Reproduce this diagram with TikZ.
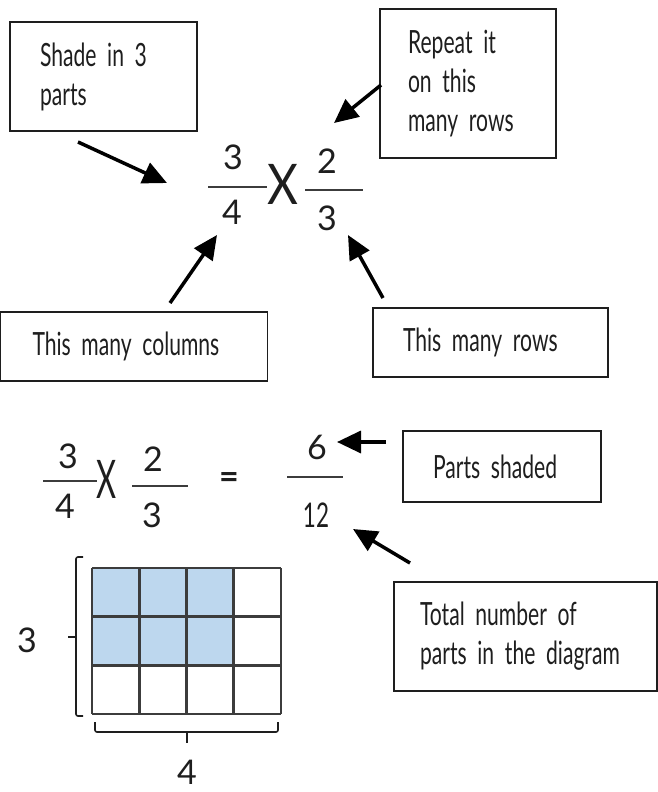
\documentclass[tikz,border=0pt]{standalone}
\usepackage{fontspec}
\setmainfont{Lato}[FakeStretch=0.66, WordSpace=0.4]
\newfontfamily\digitfont{Lato}
\newfontfamily\timesfont{Lato}[FakeStretch=0.85]
\usetikzlibrary{arrows.meta}
\definecolor{Ink}{HTML}{1E1E1E}
\definecolor{GridInk}{HTML}{3C3C3C}
\definecolor{ShadeBlue}{HTML}{BDD7EE}
\hyphenpenalty=10000

\begin{document}
\begin{tikzpicture}[x=1pt, y=-1pt,
    note/.style={draw=Ink, line width=1.8pt, text=Ink, align=left,
                 font=\fontsize{32}{39}\selectfont, inner ysep=0pt},
    num/.style={text=Ink, font=\digitfont\fontsize{34}{34}\selectfont, inner sep=0pt},
    times/.style={text=Ink, font=\timesfont\fontsize{56}{56}\selectfont, inner sep=0pt},
    pointer/.style={draw=black, line width=3.5pt, -{Triangle[length=24pt,width=22pt]}},
    bar/.style={draw=GridInk, line width=2.4pt},
    gridline/.style={draw=GridInk, line width=2.8pt},
    bracket/.style={draw=Ink, line width=1.6pt, rounded corners=2pt}
  ]
  \useasboundingbox (0,0) rectangle (658,792);

  % the labelled multiplication
  \node[num] (topA) at (233,157) {3};
  \node[num] (botA) at (232,212) {4};
  \draw[bar] (208,187) -- (267,187);
  \node[times] (timesTop) at (283,184) {X};
  \node[num] (topB) at (327,161) {2};
  \node[num] (botB) at (327,218) {3};
  \draw[bar] (305,190) -- (363,190);

  \node[note, text width=127pt, inner xsep=30pt, minimum height=109pt] (shade) at (103.5,76.5) {Shade in 3\\parts};
  \node[note, text width=120pt, inner xsep=28pt, minimum height=149pt] (repeat) at (468,83.5) {Repeat it\\on this\\many rows};
  \node[note, text width=203pt, inner xsep=32pt, minimum height=69pt] (cols) at (134,346.5) {This many columns};
  \node[note, text width=175pt, inner xsep=30pt, minimum height=69pt] (rows) at (490.5,342.5) {This many rows};

  \coordinate (shadeTail) at (78,142);   \coordinate (shadeTip) at (167,183);
  \coordinate (repeatTail) at (381,85);  \coordinate (repeatTip) at (334,123);
  \coordinate (colsTail) at (170,303);   \coordinate (colsTip) at (217,235);
  \coordinate (rowsTail) at (383,298);   \coordinate (rowsTip) at (348,235);
  \draw[pointer] (shadeTail) -- (shadeTip);
  \draw[pointer] (repeatTail) -- (repeatTip);
  \draw[pointer] (colsTail) -- (colsTip);
  \draw[pointer] (rowsTail) -- (rowsTip);

  % the worked answer
  \node[num] (ansTopA) at (68,456) {3};
  \node[num] (ansBotA) at (65,506) {4};
  \draw[bar] (43,481) -- (97,481);
  \node[times] (timesAns) at (107,479) {\scalebox{0.65}[0.95]{X}};
  \node[num] (ansTopB) at (153,459) {2};
  \node[num] (ansBotB) at (152,515) {3};
  \draw[bar] (132,486) -- (188,486);
  \node[num, font=\digitfont\bfseries\fontsize{34}{34}\selectfont] (equals) at (229,481) {=};
  \node[num] (shaded) at (317,447) {6};
  \node[num, font=\fontsize{34}{34}\selectfont] (total) at (316,515) {12};
  \draw[bar] (287,477) -- (343,477);

  \node[note, text width=138pt, inner xsep=30pt, minimum height=71pt] (parts) at (502,466.5) {Parts shaded};
  \node[note, text width=211pt, inner xsep=26pt, minimum height=109pt] (whole) at (525.5,636.5) {Total number of\\parts in the diagram};

  \coordinate (partsTail) at (386,442);  \coordinate (partsTip) at (337,442);
  \coordinate (wholeTail) at (410,563);  \coordinate (wholeTip) at (353,529);
  \draw[pointer] (partsTail) -- (partsTip);
  \draw[pointer] (wholeTail) -- (wholeTip);

  % area model
  \fill[ShadeBlue] (92,568) rectangle (234,667);
  \foreach \i in {0,...,4}
    \draw[gridline] ({92+47.25*\i},568) -- ({92+47.25*\i},714);
  \foreach \j in {0,...,3}
    \draw[gridline] (92,{568+48.67*\j}) -- (281,{568+48.67*\j});

  \draw[bracket] (83,557) -- (76,557) -- (76,716) -- (83,716);
  \draw[bracket] (76,637) -- (68,637);
  \draw[bracket] (95,722) -- (95,732) -- (278,732) -- (278,722);
  \draw[bracket] (187,732) -- (187,743);
  \node[num] (rowCount) at (27,640) {3};
  \node[num] (colCount) at (187,772) {4};
\end{tikzpicture}
\end{document}
